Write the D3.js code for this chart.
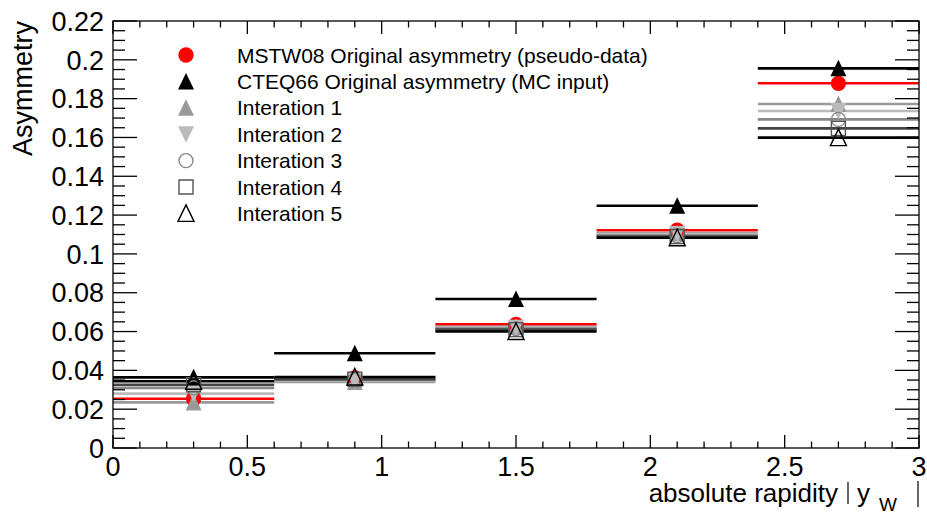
<!DOCTYPE html>
<html>
<head>
<meta charset="utf-8">
<script src="https://cdn.jsdelivr.net/npm/d3@7/dist/d3.min.js"></script>
<style>
  html, body { margin: 0; padding: 0; background: #fff; }
  svg { display: block; font-family: "Liberation Sans", Arial, sans-serif; }
</style>
</head>
<body>
<svg id="chart" width="927" height="514"></svg>
<script>
// Bin edges in |y_W| and the asymmetry per bin for each histogram
const binEdges = [0, 0.6, 1.2, 1.8, 2.4, 3.0];
const mstw   = [0.0254, 0.0361, 0.0637, 0.1122, 0.1879];
const cteq   = [0.0364, 0.0488, 0.0768, 0.1248, 0.1956];
const iter1  = [0.0235, 0.0340, 0.0625, 0.1108, 0.1772];
const iter2  = [0.0280, 0.0345, 0.0620, 0.1102, 0.1736];
const iter3  = [0.0310, 0.0350, 0.0615, 0.1095, 0.1693];
const iter4  = [0.0326, 0.0355, 0.0610, 0.1090, 0.1647];
const iter5  = [0.0344, 0.0366, 0.0600, 0.1083, 0.1599];

const seriesNames = [
  "MSTW08 Original asymmetry (pseudo-data)",
  "CTEQ66 Original asymmetry (MC input)",
  "Interation 1",
  "Interation 2",
  "Interation 3",
  "Interation 4",
  "Interation 5"
];
const seriesValues = [mstw, cteq, iter1, iter2, iter3, iter4, iter5];

const xTickLabels = ["0", "0.5", "1", "1.5", "2", "2.5", "3"];
const yTickLabels = ["0", "0.02", "0.04", "0.06", "0.08", "0.1", "0.12", "0.14", "0.16", "0.18", "0.2", "0.22"];

// Drawing styles per series (line colour, marker shape, fill)
const styles = [
  { line: "#ff0000", marker: "circle",   fill: "#ff0000", stroke: "none" },
  { line: "#000000", marker: "triangle", fill: "#000000", stroke: "none" },
  { line: "#999999", marker: "triangle", fill: "#999999", stroke: "none" },
  { line: "#bbbbbb", marker: "triangleDown", fill: "#bbbbbb", stroke: "none" },
  { line: "#888888", marker: "circle",   fill: "none", stroke: "#888888" },
  { line: "#444444", marker: "square",   fill: "none", stroke: "#555555" },
  { line: "#000000", marker: "triangle", fill: "none", stroke: "#000000" }
];

const svg = d3.select("#chart");
const frame = { left: 113, right: 919, top: 21, bottom: 448 };

const x = d3.scaleLinear().domain([0, 3]).range([frame.left, frame.right]);
const y = d3.scaleLinear().domain([0, 0.22]).range([frame.bottom, frame.top]);

// Marker path generator (shapes centred on the point)
function markerPath(shape, filled) {
  switch (shape) {
    case "circle": return d3.symbol(d3.symbolCircle, filled ? 185 : 155)();
    case "square": return "M-7,-7L7,-7L7,7L-7,7Z";
    case "triangle": return "M0,-8.5L8,8L-8,8Z";
    case "triangleDown": return "M0,8.5L8,-8L-8,-8Z";
  }
}

// Histogram lines: one horizontal segment per bin
const lineLayer = svg.append("g");
seriesValues.forEach((vals, i) => {
  lineLayer.selectAll(null)
    .data(vals)
    .enter().append("line")
    .attr("x1", (d, j) => x(binEdges[j]))
    .attr("x2", (d, j) => x(binEdges[j + 1]))
    .attr("y1", d => y(d))
    .attr("y2", d => y(d))
    .attr("stroke", styles[i].line)
    .attr("stroke-width", 2.6);
});

// Markers at the bin centres
const markerLayer = svg.append("g");
seriesValues.forEach((vals, i) => {
  const st = styles[i];
  markerLayer.selectAll(null)
    .data(vals)
    .enter().append("path")
    .attr("transform", (d, j) => `translate(${x((binEdges[j] + binEdges[j + 1]) / 2)},${y(d)})`)
    .attr("d", markerPath(st.marker, st.fill !== "none"))
    .attr("fill", st.fill)
    .attr("stroke", st.stroke)
    .attr("stroke-width", 1.4);
});

// Frame and ticks (ticks drawn inward on all four sides)
const axisLayer = svg.append("g").attr("stroke", "#000").attr("stroke-width", 1.3);
axisLayer.append("rect")
  .attr("x", frame.left).attr("y", frame.top)
  .attr("width", frame.right - frame.left).attr("height", frame.bottom - frame.top)
  .attr("fill", "none");

const yMinor = d3.range(0, 0.2201, 0.005);
yMinor.forEach((v, k) => {
  const len = (k % 4 === 0) ? 24 : 12;
  axisLayer.append("line").attr("x1", frame.left).attr("x2", frame.left + len)
    .attr("y1", y(v)).attr("y2", y(v));
  axisLayer.append("line").attr("x1", frame.right).attr("x2", frame.right - len)
    .attr("y1", y(v)).attr("y2", y(v));
});
const xMinor = d3.range(0, 3.001, 0.1);
xMinor.forEach((v, k) => {
  const len = (k % 5 === 0) ? 13 : 6.5;
  axisLayer.append("line").attr("y1", frame.bottom).attr("y2", frame.bottom - len)
    .attr("x1", x(v)).attr("x2", x(v));
  axisLayer.append("line").attr("y1", frame.top).attr("y2", frame.top + len)
    .attr("x1", x(v)).attr("x2", x(v));
});

// Tick labels
const labelSize = 27;
svg.append("g").selectAll("text")
  .data(yTickLabels)
  .enter().append("text")
  .attr("x", frame.left - 9)
  .attr("y", d => y(+d))
  .attr("dy", "0.36em")
  .attr("text-anchor", "end")
  .attr("font-size", labelSize)
  .text(d => d);

svg.append("g").selectAll("text")
  .data(xTickLabels)
  .enter().append("text")
  .attr("x", d => x(+d))
  .attr("y", frame.bottom + 28)
  .attr("text-anchor", "middle")
  .attr("font-size", labelSize)
  .text(d => d);

// Axis titles
svg.append("text")
  .attr("transform", `translate(32,${frame.top}) rotate(-90)`)
  .attr("text-anchor", "end")
  .attr("font-size", labelSize)
  .text("Asymmetry");

// x title: "absolute rapidity |y_W|" with tall absolute-value bars
const xt = svg.append("g");
xt.append("text")
  .attr("x", 838).attr("y", 502)
  .attr("text-anchor", "end")
  .attr("font-size", 26)
  .text("absolute rapidity");
xt.append("line").attr("x1", 848).attr("x2", 848).attr("y1", 482).attr("y2", 504)
  .attr("stroke", "#000").attr("stroke-width", 1.2);
xt.append("text")
  .attr("x", 857).attr("y", 502)
  .attr("font-size", 26)
  .text("y");
xt.append("text")
  .attr("x", 879).attr("y", 511)
  .attr("font-size", 19)
  .text("W");
xt.append("line").attr("x1", 918).attr("x2", 918).attr("y1", 481).attr("y2", 507)
  .attr("stroke", "#000").attr("stroke-width", 1.2);

// Legend
const legend = svg.append("g");
const legendRowY = d3.range(seriesNames.length).map(i => 55 + i * 26.4);
seriesNames.forEach((name, i) => {
  const st = styles[i];
  legend.append("path")
    .attr("transform", `translate(186,${legendRowY[i]})`)
    .attr("d", markerPath(st.marker, st.fill !== "none"))
    .attr("fill", st.fill)
    .attr("stroke", st.stroke)
    .attr("stroke-width", 1.4);
  legend.append("text")
    .attr("x", 237)
    .attr("y", legendRowY[i])
    .attr("dy", "0.36em")
    .attr("font-size", 21)
    .text(name);
});
</script>
</body>
</html>
